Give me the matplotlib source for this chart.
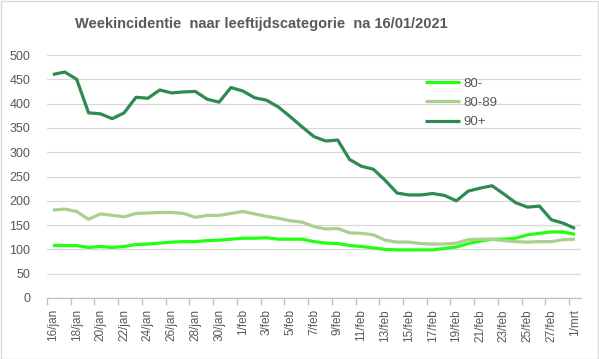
import numpy as np
import matplotlib
matplotlib.use("Agg")
import matplotlib.pyplot as plt
from matplotlib.patches import Rectangle

# Data
days_jan = [f"{d}/jan" for d in range(16, 32)]
days_feb = [f"{d}/feb" for d in range(1, 29)]
dates = days_jan + days_feb + ["1/mrt"]

age_80min = [108, 108, 108, 104, 106, 104, 106, 110, 111, 113, 115, 116, 116, 118, 119,
             121, 123, 123, 124, 121, 121, 121, 116, 113, 112, 108, 106, 103, 100, 99,
             99, 99, 99, 102, 105, 112, 117, 121, 121, 123, 130, 133, 136, 136, 131]
age_80_89 = [181, 183, 178, 162, 173, 170, 167, 174, 175, 176, 176, 174, 166, 170, 170,
             174, 178, 173, 168, 164, 159, 156, 147, 142, 143, 134, 133, 130, 119, 115,
             115, 112, 111, 111, 113, 120, 121, 121, 118, 116, 115, 116, 116, 120, 121]
age_90plus = [460, 465, 450, 381, 379, 369, 381, 413, 411, 428, 422, 424, 425, 409, 403,
              433, 426, 412, 407, 393, 373, 352, 332, 323, 325, 285, 271, 265, 242, 216,
              212, 212, 215, 211, 200, 220, 226, 231, 214, 196, 187, 189, 161, 154, 143]

series = [("80-", age_80min, "#22FF11"),
          ("80-89", age_80_89, "#A9D18E"),
          ("90+", age_90plus, "#2E8B4F")]

text_col = "#595959"
plt.rcParams["font.family"] = ["Liberation Sans", "DejaVu Sans"]

fig = plt.figure(figsize=(5.99, 3.59), dpi=100)
ax = fig.add_axes([47 / 599, 1 - 298 / 359, (581 - 47) / 599, (298 - 55) / 359])

x = np.arange(len(dates))
for name, vals, col in series:
    ax.plot(x, vals, color=col, lw=2.3, label=name, solid_capstyle="butt")

# axes styling
ax.set_xlim(-0.5, len(dates) - 0.5)
ax.set_ylim(0, 500)
ax.set_yticks(np.arange(0, 501, 50))
ax.yaxis.grid(True, color="#D9D9D9", lw=0.9)
ax.set_axisbelow(True)
for s in ["top", "right", "left"]:
    ax.spines[s].set_visible(False)
ax.spines["bottom"].set_color("#BFBFBF")
ax.spines["bottom"].set_linewidth(0.9)
ax.tick_params(axis="y", length=0, labelsize=9, labelcolor=text_col, pad=12)

ax.set_xticks(x[::2])
ax.set_xticklabels(dates[::2], rotation=90)
ax.set_xticks(np.arange(-0.5, len(dates) - 1, 2), minor=True)
ax.tick_params(axis="x", which="major", length=0, labelsize=8.5, labelcolor=text_col, pad=8)
ax.tick_params(axis="x", which="minor", length=5, color="#BFBFBF", width=0.9)

leg = ax.legend(loc="upper left", bbox_to_anchor=((420 - 47) / 534, (298 - 72) / 243),
                frameon=False, fontsize=9.5, handlelength=2.6, labelspacing=0.55,
                handletextpad=0.3, borderaxespad=0)
for t in leg.get_texts():
    t.set_color(text_col)

fig.text(261 / 599, 1 - 24 / 359, "Weekincidentie  naar leeftijdscategorie  na 16/01/2021",
         ha="center", va="center", fontsize=10.5, fontweight="bold", color=text_col)

# chart border
fig.patches.append(Rectangle((0.5 / 599, 0.5 / 359), 597.5 / 599, 357.5 / 359,
                             transform=fig.transFigure, fill=False,
                             edgecolor="#D9D9D9", lw=1))

fig.savefig("out.png", dpi=100)
